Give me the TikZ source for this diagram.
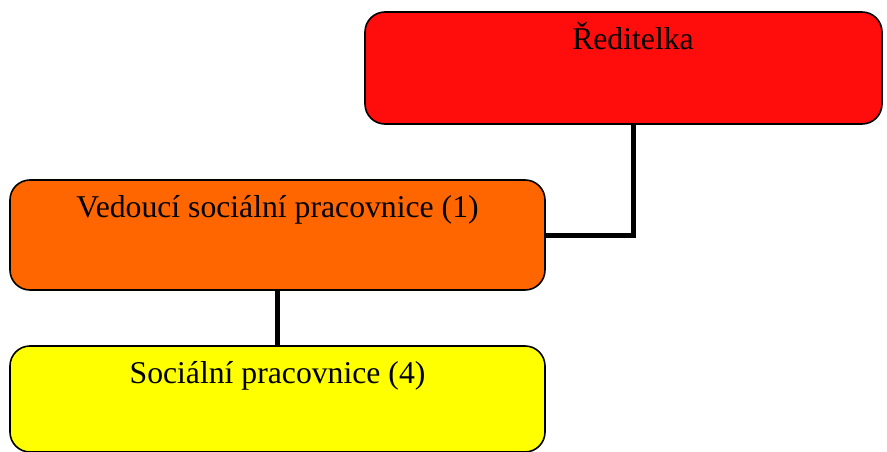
\documentclass[tikz,border=0pt]{standalone}
\usepackage{fontspec}
\setmainfont{Liberation Serif}
\definecolor{cred}{HTML}{FF0D0D}
\definecolor{corange}{HTML}{FF6600}
\definecolor{cyellow}{HTML}{FFFF00}
\tikzset{
  orgbox/.style={draw=black, line width=1.6pt, rounded corners=20pt, rectangle, inner sep=0pt},
  conn/.style={draw=black, line width=5pt},
  boxtext/.style={font=\fontsize{31.7}{36}\selectfont, anchor=base}
}
\begin{document}
\begin{tikzpicture}[x=1pt,y=-1pt]
\useasboundingbox (0,0) rectangle (887,452);
\node[orgbox, fill=cred, minimum width=517pt, minimum height=112pt,
      label={[boxtext, yshift=-38pt, xshift=9.5pt]north:Ředitelka}] (red) at (623.5,68) {};
\node[orgbox, fill=corange, minimum width=535pt, minimum height=110pt,
      label={[boxtext, yshift=-38pt]north:Vedoucí sociální pracovnice (1)}] (ved) at (277.5,235) {};
\node[orgbox, fill=cyellow, minimum width=535pt, minimum height=106pt,
      label={[boxtext, yshift=-38pt]north:Sociální pracovnice (4)}] (soc) at (277.5,399) {};
\coordinate (bend) at (633,235);
\draw[conn] (red.south -| bend) -- (bend) -- (ved.east);
\draw[conn] (ved.south) -- (soc.north);
\end{tikzpicture}
\end{document}
